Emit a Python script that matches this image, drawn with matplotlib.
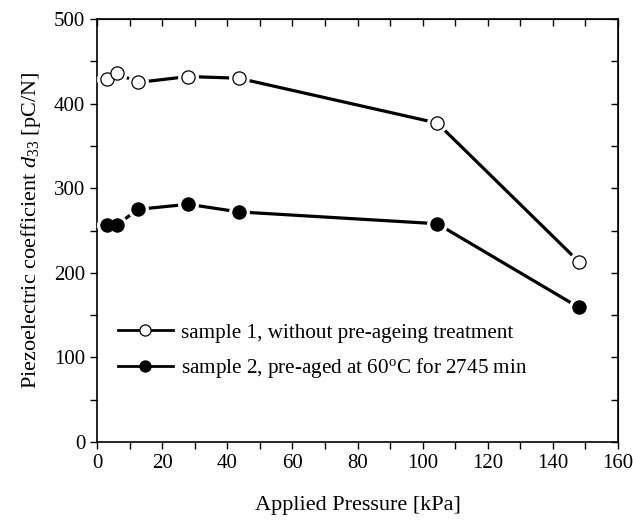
import matplotlib
matplotlib.use('Agg')
import matplotlib.pyplot as plt
from matplotlib.lines import Line2D

plt.rcParams['font.family'] = ['Liberation Serif', 'DejaVu Serif']
plt.rcParams['mathtext.fontset'] = 'custom'
plt.rcParams['mathtext.rm'] = 'Liberation Serif'
plt.rcParams['mathtext.it'] = 'Liberation Serif:italic'
plt.rcParams['font.size'] = 16

# data
pressure = [3, 6, 12.5, 28, 43.5, 104.5, 148]
d33_sample1 = [429, 436, 425, 432, 430, 377, 213]
d33_sample2 = [256, 256, 275, 281, 272, 258, 159]
labels = ['sample 1, without pre-ageing treatment',
          'sample 2, pre-aged at 60$^\\mathrm{o}$C for 2745 min']

fig = plt.figure(figsize=(6.33, 5.23), dpi=100)
ax = fig.add_axes([97 / 633, 1 - 442 / 523, 521 / 633, 423 / 523])

handles = []
for y, fc, lab in [(d33_sample1, 'white', labels[0]), (d33_sample2, 'black', labels[1])]:
    ax.plot(pressure, y, '-', color='black', lw=2.3, zorder=2)
    # white halo gives the gap between line and marker
    ax.plot(pressure, y, 'o', color='white', ms=14, zorder=3)
    ax.plot(pressure, y, 'o', mfc=fc, mec='black', mew=0.9, ms=9.5, zorder=4)
    handles.append(Line2D([], [], color='black', lw=2, marker='o', mfc=fc,
                          mec='black', mew=0.9, ms=8, label=lab))

ax.set_xlim(0, 160)
ax.set_ylim(0, 500)
ax.set_xticks(range(0, 161, 20))
ax.set_xticks(range(0, 161, 10), minor=True)
ax.set_yticks(range(0, 501, 100))
ax.set_yticks(range(0, 501, 50), minor=True)
ax.tick_params(which='both', direction='out', length=5, width=1, top=False, right=False,
               labelsize=15)

# inward ticks on top and right
top = ax.secondary_xaxis('top')
top.set_xticks(range(0, 161, 20))
top.set_xticks(range(0, 161, 10), minor=True)
top.tick_params(which='both', direction='in', length=5, width=1, labeltop=False)
right = ax.secondary_yaxis('right')
right.set_yticks(range(0, 501, 100))
right.set_yticks(range(0, 501, 50), minor=True)
right.tick_params(which='both', direction='in', length=5, width=1, labelright=False)

for s in list(ax.spines.values()):
    s.set_linewidth(1.2)

ax.set_xlabel('Applied Pressure [kPa]', labelpad=17)
ax.set_ylabel('Piezoelectric coefficient $\\it{d}_{33}$ [pC/N]', labelpad=8)

ax.legend(handles=handles, loc='center left', bbox_to_anchor=(0.04, 0.214),
          frameon=False, borderpad=0, borderaxespad=0, handlelength=2.6,
          handletextpad=0.4, labelspacing=0.65, fontsize=15.2)

fig.savefig('out.png', dpi=100)
